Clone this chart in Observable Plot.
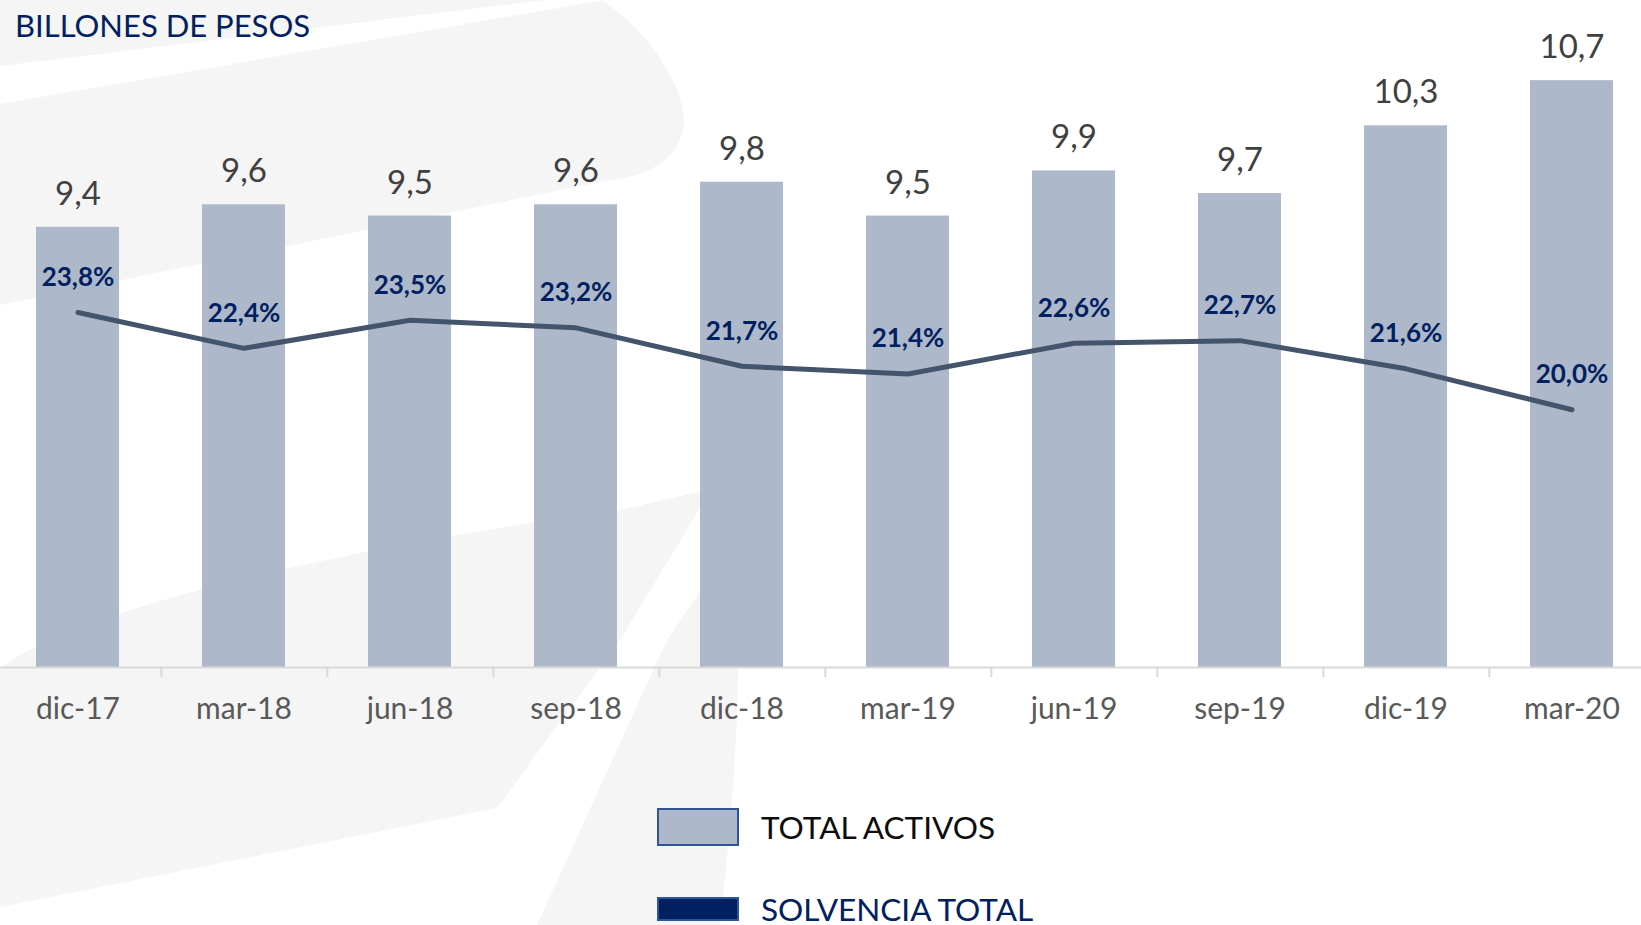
<!DOCTYPE html>
<html>
<head>
<meta charset="utf-8">
<script src="https://cdn.jsdelivr.net/npm/d3@7"></script>
<script src="https://cdn.jsdelivr.net/npm/@observablehq/plot@0.6"></script>
<style>
  html, body { margin: 0; padding: 0; background: #ffffff; }
  body { width: 1641px; height: 925px; position: relative; overflow: hidden; font-family: Lato, "Open Sans", sans-serif; }
  #bg { position: absolute; left: 0; top: 0; }
  #chart { position: absolute; left: 0; top: 0; }
  #title { position: absolute; left: 15px; top: 9px; font-size: 31px; line-height: 32px; color: #002060; white-space: nowrap; }
  .swatch { position: absolute; box-sizing: border-box; border: 2px solid #2f5597; }
  .legtext { position: absolute; font-size: 31.5px; line-height: 32px; white-space: nowrap; }
</style>
</head>
<body>
<svg id="bg" width="1641" height="925">
  <!-- faint watermark shapes -->
  <path d="M0,0 L602,0 C660,40 690,100 683,130 C675,165 640,178 600,182 L0,305 Z" fill="#f5f5f5"/>
  <path d="M0,66 L545,0 L605,0 L0,104 Z" fill="#ffffff"/>
  <path d="M0,670 C40,630 250,560 620,510 L715,488 C745,560 745,700 720,925 L0,925 Z" fill="#f5f5f5"/>
  <path d="M705,500 L735,540 L667,640 L537,925 L447,925 L497,808 L620,640 Z" fill="#ffffff"/>
  <path d="M0,907 L497,808 L447,925 L0,925 Z" fill="#ffffff"/>
</svg>
<div id="chart"></div>
<div id="title">BILLONES DE PESOS</div>
<div class="swatch" style="left:657px; top:808px; width:82px; height:38px; background:#adb9ca;"></div>
<div class="legtext" style="left:761px; top:811px; color:#0d0d0d;">TOTAL ACTIVOS</div>
<div class="swatch" style="left:657px; top:897px; width:82px; height:24px; background:#002060;"></div>
<div class="legtext" style="left:761px; top:893px; color:#002060;">SOLVENCIA TOTAL</div>
<script>
// ---- Data ----
const categories = ["dic-17", "mar-18", "jun-18", "sep-18", "dic-18", "mar-19", "jun-19", "sep-19", "dic-19", "mar-20"];
const totalActivos = [9.4, 9.6, 9.5, 9.6, 9.8, 9.5, 9.9, 9.7, 10.3, 10.7];
const solvenciaTotal = [23.8, 22.4, 23.5, 23.2, 21.7, 21.4, 22.6, 22.7, 21.6, 20.0];

// axis extents (primary: billones, secondary: %)
const yDomain = [5.5, 11.41];
const pctDomain = [9.93, 35.99];

const W = 1641, H = 745, MB = 78;
const xRange = [-8.4, 1658];
const step = (xRange[1] - xRange[0]) / categories.length;
const pxPerUnit = (H - MB) / (yDomain[1] - yDomain[0]);

const pctToY = d3.scaleLinear().domain(pctDomain).range(yDomain);
const fmt = d => d.toFixed(1).replace(".", ",");

const data = categories.map((c, i) => ({
  cat: c,
  activos: totalActivos[i],
  solv: solvenciaTotal[i],
  solvY: pctToY(solvenciaTotal[i])
}));

const chart = Plot.plot({
  width: W,
  height: H,
  marginTop: 0,
  marginBottom: MB,
  marginLeft: 0,
  marginRight: 0,
  style: { background: "transparent", fontFamily: "Lato, 'Open Sans', sans-serif", overflow: "visible" },
  x: { type: "band", domain: categories, range: xRange, paddingInner: 0.5, paddingOuter: 0.25, axis: null },
  y: { domain: yDomain, axis: null },
  marks: [
    Plot.barY(data, { x: "cat", y1: yDomain[0], y2: "activos", fill: "#adb9ca" }),
    Plot.ruleY([yDomain[0]], { stroke: "#d9d9d9", strokeWidth: 2 }),
    Plot.ruleX(categories.slice(0, -1), {
      x: d => d, dx: step / 2,
      y1: yDomain[0], y2: yDomain[0] - 10 / pxPerUnit,
      stroke: "#d9d9d9", strokeWidth: 2
    }),
    Plot.axisX({ tickSize: 0, tickPadding: 30, fontSize: 30, fill: "#595959", label: null }),
    Plot.text(data, { x: "cat", y: "activos", text: d => fmt(d.activos), dy: -33, fontSize: 33, fill: "#404040" }),
    Plot.line(data, { x: "cat", y: "solvY", stroke: "#44546a", strokeWidth: 5, strokeLinecap: "round", strokeLinejoin: "round" }),
    Plot.text(data, {
      x: "cat", y: "solvY", text: d => fmt(d.solv) + "%", dy: -35,
      fontSize: 26, fontWeight: "bold", fill: "#002060"
    })
  ]
});
document.getElementById("chart").appendChild(chart);
</script>
</body>
</html>
